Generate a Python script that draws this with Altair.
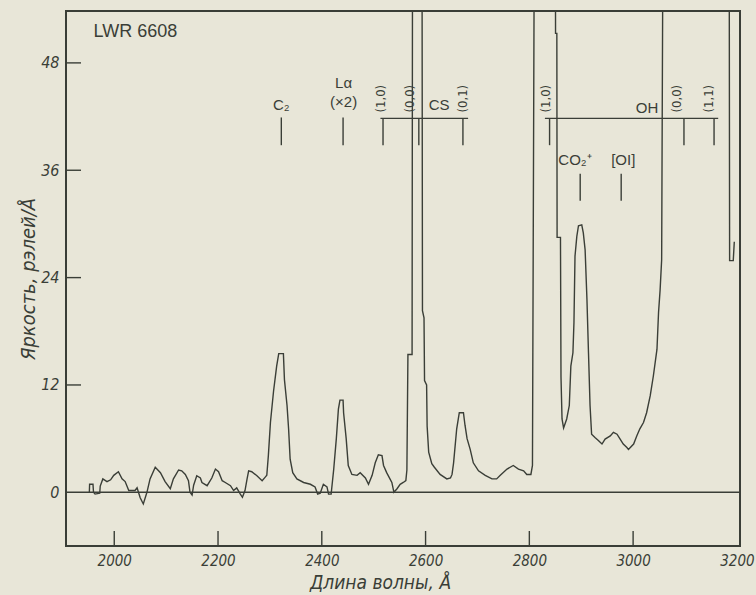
import altair as alt
import pandas as pd

# ---------------- data ----------------
wavelength = [
    1952.0, 1952.5, 1959, 1960, 1963, 1972, 1973, 1978, 1986, 1993, 1999, 2008, 2015, 2021, 2028,
    2040, 2044, 2050, 2056, 2063, 2069, 2079, 2089, 2098, 2108, 2114, 2124, 2130, 2137, 2143,
    2146, 2150, 2153, 2159, 2166, 2169, 2179, 2188, 2195, 2201, 2208, 2214, 2224, 2230, 2236,
    2243, 2247, 2252, 2256, 2259, 2265, 2275, 2285, 2291, 2294, 2297, 2301, 2307, 2313, 2317,
    2326, 2328, 2333, 2336, 2339, 2344, 2352, 2365, 2378, 2387, 2392, 2397, 2403, 2410, 2413,
    2418, 2423, 2428, 2432, 2435, 2441, 2442, 2447, 2451, 2458, 2468, 2474, 2484, 2490, 2497,
    2503, 2509, 2516, 2519, 2525, 2535, 2539, 2545, 2551, 2557, 2562, 2564, 2566, 2574, 2575,
    2593, 2594, 2597, 2598, 2602, 2603, 2606, 2612, 2617, 2628, 2641, 2648, 2651, 2654, 2660,
    2665, 2673, 2676, 2680, 2686, 2692, 2702, 2715, 2728, 2737, 2744, 2757, 2769, 2779, 2789,
    2795, 2800, 2803, 2806, 2810, 2850, 2850.5, 2853, 2853.5, 2860, 2861, 2863, 2866, 2872, 2877,
    2880, 2884, 2886, 2888, 2891.5, 2894.7, 2901, 2904, 2907.5, 2911, 2914, 2917, 2920, 2927, 2933,
    2940, 2946, 2956, 2962, 2969, 2975, 2981, 2988, 2991, 3001, 3007, 3013, 3020, 3026, 3033,
    3039, 3046, 3049, 3052, 3055, 3058, 3185, 3186, 3193, 3195,
]
brightness = [
    0.0, 0.9, 0.9, 0.0, -0.2, -0.1, 0.7, 1.5, 1.2, 1.4, 1.9, 2.3, 1.5, 1.2, 0.2,
    0.2, 0.5, -0.6, -1.3, 0.0, 1.5, 2.8, 2.2, 1.2, 0.4, 1.5, 2.5, 2.4, 2.0, 1.3,
    0.0, -0.3, 0.8, 1.85, 1.6, 1.1, 0.74, 1.6, 2.6, 2.3, 1.3, 1.1, 0.74, 0.2, 0.5,
    -0.2, -0.56, 0.2, 1.5, 2.4, 2.3, 1.85, 1.3, 1.7, 1.9, 4.1, 7.8, 11.3, 14.1, 15.5,
    15.5, 12.6, 9.7, 7.1, 3.7, 2.2, 1.5, 1.1, 0.9, 0.6, -0.2, -0.1, 0.9, 0.6, -0.2,
    -0.2, 2.6, 6.0, 9.3, 10.3, 10.3, 8.9, 6.0, 3.0, 2.0, 1.9, 2.2, 1.6, 0.9, 1.9,
    3.3, 4.2, 4.1, 3.0, 2.2, 1.1, 0.0, 0.4, 0.9, 1.1, 1.3, 2.5, 15.4, 15.4, 70,
    70, 20.3, 19.5, 12.5, 12.0, 7.4, 4.5, 3.2, 2.8, 2.0, 1.5, 1.6, 2.0, 3.3, 7.1,
    8.9, 8.9, 7.5, 6.0, 4.8, 3.3, 2.4, 1.9, 1.5, 1.5, 1.9, 2.6, 3.0, 2.6, 2.4,
    2.0, 2.0, 2.0, 3.0, 70, 70, 51.3, 51.3, 28.5, 28.5, 12.9, 8.2, 7.2, 8.2, 9.7,
    14.1, 15.6, 19.0, 26.4, 28.6, 29.8, 29.9, 29.0, 27.1, 21.6, 15.6, 9.7, 6.5, 6.1, 5.8,
    5.4, 5.95, 6.3, 6.7, 6.5, 5.95, 5.4, 5.0, 4.8, 5.4, 6.3, 7.1, 7.8, 8.9, 10.8,
    13.0, 16.0, 20.1, 22.6, 26.0, 70, 70, 25.9, 25.9, 28.0,
]

x_tick_values = [2000, 2200, 2400, 2600, 2800, 3000, 3200]
y_tick_values = [0, 12, 24, 36, 48]

# feature labels
label_text = ["C₂", "Lα", "(×2)", "CS", "OH", "CO₂⁺", "[OI]"]
label_x = [2322, 2442, 2442, 2626, 3027, 2888, 2981]
label_y = [43.3, 45.7, 43.6, 43.3, 43.0, 37.1, 37.1]

# rotated band labels
band_text = ["(1,0)", "(0,0)", "(0,1)", "(1,0)", "(0,0)", "(1,1)"]
band_x = [2514, 2570, 2672, 2832, 3085, 3146]
band_y = [44.0, 44.0, 44.0, 44.0, 44.0, 44.0]

# marker lines under labels
marker_x = [2322, 2441, 2518, 2587, 2672, 2839, 3098, 3156, 2898, 2977]
marker_top = [41.9, 41.9, 41.8, 41.8, 41.8, 41.8, 41.8, 41.8, 35.6, 35.6]
marker_bottom = [38.8, 38.8, 38.8, 38.8, 38.8, 38.8, 38.8, 38.8, 32.6, 32.6]

# horizontal brackets (CS, OH)
bracket_start = [2513, 2830]
bracket_end = [2682, 3164]
bracket_level = [41.8, 41.8]

# ---------------- style ----------------
INK = "#3a3e37"
BG = "#e8e6d8"
NARROW = "Liberation Sans Narrow, DejaVu Sans Condensed, Liberation Sans, sans-serif"
SANS = "Liberation Sans, Arial, sans-serif"
W, H = 674, 535

XD = [1907, 3206]
YD = [-6.0, 53.8]
xs = alt.Scale(domain=XD, nice=False, zero=False)
ys = alt.Scale(domain=YD, nice=False, zero=False)

spec = pd.DataFrame({"wl": wavelength, "b": brightness})
spec["i"] = range(len(spec))

x_axis = alt.Axis(
    values=x_tick_values, format="d", ticks=False, domain=False, grid=False,
    labelFont=NARROW, labelFontStyle="italic", labelFontSize=15, labelColor=INK,
    labelPadding=7,
    title="Длина волны, Å", titleFont=NARROW, titleFontStyle="italic",
    titleFontWeight="normal", titleFontSize=19, titleColor=INK,
    titleX=314, titleY=27, titleBaseline="top",
)
y_axis = alt.Axis(
    values=y_tick_values, format="d", ticks=False, domain=False, grid=False,
    labelFont=NARROW, labelFontStyle="italic", labelFontSize=16, labelColor=INK,
    labelPadding=7,
    title="Яркость, рэлей/Å", titleFont=NARROW, titleFontStyle="italic",
    titleFontWeight="normal", titleFontSize=20, titleColor=INK,
    titleX=-32, titleBaseline="alphabetic",
)

line = alt.Chart(spec).mark_line(color=INK, strokeWidth=1.4, clip=True).encode(
    x=alt.X("wl:Q", scale=xs, axis=x_axis),
    y=alt.Y("b:Q", scale=ys, axis=y_axis),
    order="i:Q",
)

zero = alt.Chart(pd.DataFrame({"z": [0]})).mark_rule(color=INK, strokeWidth=1.6).encode(
    y=alt.Y("z:Q", scale=ys)
)

xt = alt.Chart(pd.DataFrame({"t": x_tick_values[:-1]})).mark_rule(color=INK, strokeWidth=1.4).encode(
    x=alt.X("t:Q", scale=xs), y=alt.value(H), y2=alt.value(H - 15)
)
yt = alt.Chart(pd.DataFrame({"t": y_tick_values[1:]})).mark_rule(color=INK, strokeWidth=1.4).encode(
    y=alt.Y("t:Q", scale=ys), x=alt.value(0), x2=alt.value(15)
)

title_txt = alt.Chart(pd.DataFrame({"x": [1960], "y": [51.4], "t": ["LWR 6608"]})).mark_text(
    align="left", baseline="middle", font=SANS, fontSize=18, color=INK
).encode(x=alt.X("x:Q", scale=xs), y=alt.Y("y:Q", scale=ys), text="t:N")

labels = alt.Chart(pd.DataFrame({"x": label_x, "y": label_y, "t": label_text})).mark_text(
    align="center", baseline="middle", font=SANS, fontSize=15, color=INK
).encode(x=alt.X("x:Q", scale=xs), y=alt.Y("y:Q", scale=ys), text="t:N")

bands = alt.Chart(pd.DataFrame({"x": band_x, "y": band_y, "t": band_text})).mark_text(
    align="center", baseline="middle", font=NARROW, fontSize=13, color=INK, angle=270
).encode(x=alt.X("x:Q", scale=xs), y=alt.Y("y:Q", scale=ys), text="t:N")

markers = alt.Chart(pd.DataFrame({"x": marker_x, "y1": marker_top, "y2": marker_bottom})).mark_rule(
    color=INK, strokeWidth=1.4
).encode(x=alt.X("x:Q", scale=xs), y=alt.Y("y1:Q", scale=ys), y2="y2:Q")

brackets = alt.Chart(pd.DataFrame({"x1": bracket_start, "x2": bracket_end, "y": bracket_level})).mark_rule(
    color=INK, strokeWidth=1.3
).encode(x=alt.X("x1:Q", scale=xs), x2="x2:Q", y=alt.Y("y:Q", scale=ys))

chart = alt.layer(
    line, zero, xt, yt, title_txt, labels, bands, markers, brackets
).properties(
    width=W, height=H,
    autosize=alt.AutoSizeParams(type="none"),
    padding={"left": 66, "top": 11, "right": 16, "bottom": 49},
).configure(background=BG).configure_view(stroke=INK, strokeWidth=2)

chart.save("out.html", embed_options={"renderer": "svg", "actions": False})
